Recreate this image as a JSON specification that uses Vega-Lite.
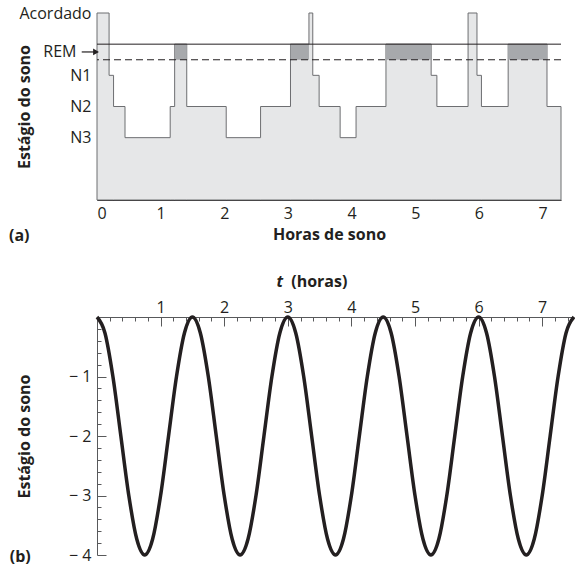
{
  "$schema": "https://vega.github.io/schema/vega-lite/v6.json",
  "padding": {"left": 8, "top": 5, "right": 0, "bottom": 5},
  "spacing": 30,
  "config": {
    "font": "Open Sans",
    "view": {"stroke": null},
    "axis": {
      "grid": false,
      "labelFont": "Open Sans",
      "labelFontSize": 16,
      "labelColor": "#231f20",
      "titleFont": "Open Sans",
      "titleFontSize": 16,
      "titleFontWeight": "bold",
      "titleColor": "#231f20",
      "domainColor": "#231f20",
      "tickColor": "#231f20"
    }
  },
  "vconcat": [
    {
      "width": 464,
      "height": 187,
      "resolve": {"axis": {"y": "independent"}},
      "layer": [
        {
          "data": {"values": [
            {"t": 0, "s": 6}, {"t": 0.19, "s": 4}, {"t": 0.26, "s": 3}, {"t": 0.44, "s": 2},
            {"t": 1.15, "s": 3}, {"t": 1.22, "s": 5}, {"t": 1.41, "s": 3}, {"t": 2.03, "s": 2},
            {"t": 2.57, "s": 3}, {"t": 3.04, "s": 5}, {"t": 3.33, "s": 6}, {"t": 3.39, "s": 4},
            {"t": 3.49, "s": 3}, {"t": 3.82, "s": 2}, {"t": 4.07, "s": 3}, {"t": 4.54, "s": 5},
            {"t": 5.25, "s": 4}, {"t": 5.34, "s": 3}, {"t": 5.83, "s": 6}, {"t": 5.97, "s": 4},
            {"t": 6.04, "s": 3}, {"t": 6.46, "s": 5}, {"t": 7.07, "s": 3}, {"t": 7.29, "s": 3}
          ]},
          "mark": {"type": "area", "interpolate": "step-after", "fill": "#e6e7e8", "stroke": "#6d6e71", "strokeWidth": 1},
          "encoding": {
            "x": {
              "field": "t", "type": "quantitative",
              "scale": {"domain": [0, 7.29], "nice": false, "zero": false},
              "axis": {
                "values": [0, 1, 2, 3, 4, 5, 6, 7],
                "format": "d",
                "tickSize": -7,
                "labelPadding": 12,
                "title": "Horas de sono",
                "titleY": 39,
                "titleBaseline": "alphabetic"
              }
            },
            "y": {
              "field": "s", "type": "quantitative",
              "scale": {"domain": [0, 6], "nice": false},
              "axis": {
                "values": [2, 3, 4, 4.75, 6],
                "labelOverlap": false,
                "labelExpr": "datum.value == 6 ? 'Acordado' : datum.value == 4.75 ? 'REM' : datum.value == 4 ? 'N1' : datum.value == 3 ? 'N2' : 'N3'",
                "tickSize": -7,
                "tickOpacity": {"condition": {"test": "datum.value == 4.75", "value": 0}, "value": 1},
                "labelPadding": {"condition": {"test": "datum.value == 4.75", "value": 28}, "value": 13},
                "domainColor": "#6d6e71",
                "title": "Estágio do sono",
                "titleX": -73,
                "titleY": 93.5,
                "titleAngle": -90,
                "titleAlign": "center",
                "titleBaseline": "middle"
              }
            }
          }
        },
        {
          "data": {"values": [
            {"t": 1.22, "t2": 1.41}, {"t": 3.04, "t2": 3.33}, {"t": 4.54, "t2": 5.25}, {"t": 6.46, "t2": 7.07}
          ]},
          "mark": {"type": "rect", "fill": "#a7a9ac"},
          "encoding": {
            "x": {"field": "t", "type": "quantitative"},
            "x2": {"field": "t2"},
            "y": {"datum": 4.5, "type": "quantitative", "axis": null},
            "y2": {"datum": 5}
          }
        },
        {
          "data": {"values": [{}]},
          "mark": {"type": "rule", "color": "#231f20", "strokeWidth": 1},
          "encoding": {
            "y": {
              "datum": 5, "type": "quantitative",
              "axis": {
                "orient": "left", "domain": false, "ticks": false, "labels": false,
                "title": "(a)", "titleAngle": 0, "titleX": -88.5, "titleY": 227,
                "titleAlign": "left", "titleBaseline": "alphabetic"
              }
            }
          }
        },
        {
          "data": {"values": [{}]},
          "mark": {"type": "rule", "color": "#231f20", "strokeWidth": 1, "strokeDash": [7, 4]},
          "encoding": {
            "y": {"datum": 4.5, "type": "quantitative", "axis": null}
          }
        },
        {
          "data": {"values": [{}]},
          "mark": {"type": "rule", "color": "#231f20", "strokeWidth": 1.2, "clip": false},
          "encoding": {
            "x": {"datum": -0.24, "type": "quantitative"},
            "x2": {"datum": -0.04},
            "y": {"datum": 4.75, "type": "quantitative", "axis": null}
          }
        },
        {
          "data": {"values": [{}]},
          "mark": {"type": "point", "shape": "triangle-right", "filled": true, "color": "#231f20", "opacity": 1, "size": 45, "clip": false},
          "encoding": {
            "x": {"datum": -0.015, "type": "quantitative"},
            "y": {"datum": 4.75, "type": "quantitative", "axis": null}
          }
        }
      ]
    },
    {
      "width": 477,
      "height": 238,
      "resolve": {"axis": {"x": "independent", "y": "independent"}},
      "data": {"values": [
        {"t": 0, "v": 0}, {"t": 0.125, "v": -0.268}, {"t": 0.25, "v": -1}, {"t": 0.375, "v": -2},
        {"t": 0.5, "v": -3}, {"t": 0.625, "v": -3.732}, {"t": 0.75, "v": -4}, {"t": 0.875, "v": -3.732},
        {"t": 1.0, "v": -3}, {"t": 1.125, "v": -2}, {"t": 1.25, "v": -1}, {"t": 1.375, "v": -0.268},
        {"t": 1.5, "v": 0}, {"t": 1.625, "v": -0.268}, {"t": 1.75, "v": -1}, {"t": 1.875, "v": -2},
        {"t": 2.0, "v": -3}, {"t": 2.125, "v": -3.732}, {"t": 2.25, "v": -4}, {"t": 2.375, "v": -3.732},
        {"t": 2.5, "v": -3}, {"t": 2.625, "v": -2}, {"t": 2.75, "v": -1}, {"t": 2.875, "v": -0.268},
        {"t": 3.0, "v": 0}, {"t": 3.125, "v": -0.268}, {"t": 3.25, "v": -1}, {"t": 3.375, "v": -2},
        {"t": 3.5, "v": -3}, {"t": 3.625, "v": -3.732}, {"t": 3.75, "v": -4}, {"t": 3.875, "v": -3.732},
        {"t": 4.0, "v": -3}, {"t": 4.125, "v": -2}, {"t": 4.25, "v": -1}, {"t": 4.375, "v": -0.268},
        {"t": 4.5, "v": 0}, {"t": 4.625, "v": -0.268}, {"t": 4.75, "v": -1}, {"t": 4.875, "v": -2},
        {"t": 5.0, "v": -3}, {"t": 5.125, "v": -3.732}, {"t": 5.25, "v": -4}, {"t": 5.375, "v": -3.732},
        {"t": 5.5, "v": -3}, {"t": 5.625, "v": -2}, {"t": 5.75, "v": -1}, {"t": 5.875, "v": -0.268},
        {"t": 6.0, "v": 0}, {"t": 6.125, "v": -0.268}, {"t": 6.25, "v": -1}, {"t": 6.375, "v": -2},
        {"t": 6.5, "v": -3}, {"t": 6.625, "v": -3.732}, {"t": 6.75, "v": -4}, {"t": 6.875, "v": -3.732},
        {"t": 7.0, "v": -3}, {"t": 7.125, "v": -2}, {"t": 7.25, "v": -1}, {"t": 7.375, "v": -0.268},
        {"t": 7.5, "v": 0}
      ]},
      "layer": [
        {
          "mark": {"type": "line", "interpolate": "monotone", "color": "#231f20", "strokeWidth": 3.5},
          "encoding": {
            "x": {
              "field": "t", "type": "quantitative",
              "scale": {"domain": [0, 7.5], "nice": false, "zero": false},
              "axis": {
                "orient": "top",
                "values": [0, 0.2, 0.4, 0.6, 0.8, 1, 1.2, 1.4, 1.6, 1.8, 2, 2.2, 2.4, 2.6, 2.8, 3, 3.2, 3.4, 3.6, 3.8, 4, 4.2, 4.4, 4.6, 4.8, 5, 5.2, 5.4, 5.6, 5.8, 6, 6.2, 6.4, 6.6, 6.8, 7, 7.2, 7.4],
                "labelExpr": "datum.value > 0.5 && abs(datum.value - round(datum.value)) < 0.001 ? format(datum.value, 'd') : ''",
                "tickSize": {"condition": {"test": "abs(datum.value - round(datum.value)) < 0.001", "value": -9}, "value": -4},
                "labelPadding": 11,
                "domainColor": "#58595b",
                "tickColor": "#58595b",
                "title": "(horas)",
                "titleX": 221.8,
                "titleY": -31,
                "titleAlign": "center",
                "titleBaseline": "alphabetic"
              }
            },
            "y": {
              "field": "v", "type": "quantitative",
              "scale": {"domain": [-4, 0], "nice": false, "zero": false},
              "axis": {
                "values": [-4, -3.8, -3.6, -3.4, -3.2, -3, -2.8, -2.6, -2.4, -2.2, -2, -1.8, -1.6, -1.4, -1.2, -1, -0.8, -0.6, -0.4, -0.2, 0],
                "labelExpr": "datum.value < -0.5 && abs(datum.value - round(datum.value)) < 0.001 ? '− ' + format(-datum.value, 'd') : ''",
                "tickSize": {"condition": {"test": "abs(datum.value - round(datum.value)) < 0.001", "value": -9}, "value": -4},
                "labelPadding": 15,
                "domainColor": "#58595b",
                "tickColor": "#58595b",
                "title": "Estágio do sono",
                "titleX": -72.7,
                "titleY": 119,
                "titleAngle": -90,
                "titleAlign": "center",
                "titleBaseline": "middle"
              }
            }
          }
        },
        {
          "mark": {"type": "line", "interpolate": "monotone", "strokeOpacity": 0},
          "encoding": {
            "x": {
              "field": "t", "type": "quantitative",
              "axis": {
                "orient": "top", "domain": false, "ticks": false, "labels": false,
                "title": "t", "titleFontStyle": "italic",
                "titleX": 182.3, "titleY": -31,
                "titleAlign": "center", "titleBaseline": "alphabetic"
              }
            },
            "y": {
              "field": "v", "type": "quantitative",
              "axis": {
                "orient": "left", "domain": false, "ticks": false, "labels": false,
                "title": "(b)", "titleAngle": 0, "titleX": -87.7, "titleY": 244,
                "titleAlign": "left", "titleBaseline": "alphabetic"
              }
            }
          }
        }
      ]
    }
  ]
}
